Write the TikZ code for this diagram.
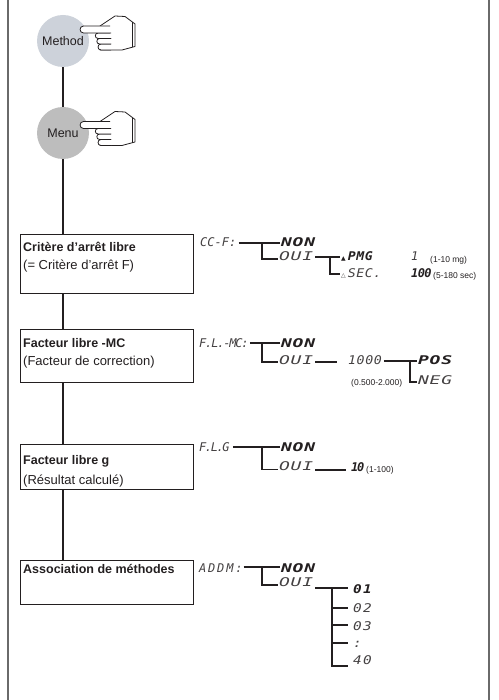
\documentclass[tikz,border=0pt]{standalone}
\usepackage{fontspec}
\setmainfont{Liberation Sans}
\newfontfamily\lcdN{DejaVu Sans Mono}
\newfontfamily\lcdW[FakeStretch=1.5,LetterSpace=6]{DejaVu Sans Mono}
\newfontfamily\lcdD[FakeStretch=1.2,LetterSpace=10]{DejaVu Sans Mono}
\newfontfamily\lcdM[FakeStretch=1.1,LetterSpace=5]{DejaVu Sans Mono}
\newfontfamily\symf{DejaVu Sans}
\definecolor{ink}{HTML}{231F20}
\definecolor{methodc}{HTML}{CDD2DA}
\definecolor{menuc}{HTML}{BDBDBD}
\definecolor{framec}{HTML}{6A6A6A}
\newcommand\tri[1]{{\symf\upshape\mdseries\fontsize{6}{6}\selectfont #1}\,}
\tikzset{
  frame/.style={draw=framec, line width=1.4pt},
  trunk/.style={draw=ink, line width=2pt},
  boxn/.style={draw=ink, line width=0.9pt, rectangle, inner sep=0pt, anchor=north west, minimum width=173pt},
  circ/.style={circle, inner sep=0pt, minimum size=52pt, text=ink, font=\fontsize{12.5}{14}\selectfont},
  btitle/.style={font=\fontsize{12.5}{14}\selectfont\bfseries, text=ink, anchor=base west, inner sep=0pt},
  bsub/.style={font=\fontsize{13}{15}\selectfont, text=ink, anchor=base west, inner sep=0pt},
  lcdt/.style={font={#1\fontsize{12}{14}\selectfont\itshape}, text=ink!85, anchor=base west, inner sep=0pt},
  lcdb/.style={font={#1\fontsize{12}{14}\selectfont\itshape\bfseries}, text=ink, anchor=base west, inner sep=0pt},
  small/.style={font=\fontsize{8.5}{10}\selectfont, text=ink, anchor=base west, inner sep=0pt},
  tree/.style={draw=ink, line width=1.1pt},
  handst/.style={draw=ink, fill=white, line width=0.8pt, line join=round},
  hand/.pic={
    \filldraw[handst] (20,-3.5) -- (35,-13.5) -- (45,-13) -- (55,-5.5) -- (55,17) -- (42,20.5) -- (20,20.5) -- cycle;
    \draw[ink, line width=0.8pt] (52.5,-7) -- (52.5,17.6);
    \filldraw[handst] (31,20.5) -- (21,20.5) .. controls (17,20.5) and (17,14.5) .. (21,14.5) -- (31,14.5);
    \filldraw[handst] (31,14.5) -- (19.5,14.5) .. controls (16,14.5) and (16,9) .. (19.5,9) -- (31,9);
    \filldraw[handst] (31,9) -- (18,9) .. controls (14.5,9) and (14.5,3.5) .. (18,3.5) -- (31,3.5);
    \filldraw[handst] (30,3.5) -- (3.5,3.5) .. controls (-1,3.5) and (-1,-3.5) .. (3.5,-3.5) -- (30,-3.5);
  }
}
\begin{document}
\begin{tikzpicture}[x=1pt,y=-1pt]
\useasboundingbox (0,0) rectangle (498,700);
\draw[frame] (8,0) -- (8,700);
\draw[frame] (489,0) -- (489,700);

% circles
\node[circ, fill=methodc] (method) at (63,41) {Method};
\node[circ, fill=menuc] (menu) at (63,133) {Menu};

% boxes
\node[boxn, minimum height=59pt] (b1) at (20,234) {};
\node[boxn, minimum height=53pt] (b2) at (20,329) {};
\node[boxn, minimum height=45pt] (b3) at (20,444) {};
\node[boxn, minimum height=44pt] (b4) at (20,560) {};

% trunk
\draw[trunk] (method) -- (menu);
\draw[trunk] (menu) -- (menu |- b1.north);
\draw[trunk] (b1.south -| menu) -- (b2.north -| menu);
\draw[trunk] (b2.south -| menu) -- (b3.north -| menu);
\draw[trunk] (b3.south -| menu) -- (b4.north -| menu);

% hands
\pic at (80,29.5) {hand};
\pic at (80,125) {hand};

% box texts
\node[btitle] (t1a) at (23,251.5) {Critère d'arrêt libre};
\node[bsub] (t1b) at (23,269.5) {(= Critère d'arrêt F)};
\node[btitle] (t2a) at (23,347.5) {Facteur libre -MC};
\node[bsub] (t2b) at (23,365) {(Facteur de correction)};
\node[btitle] (t3a) at (23,464.5) {Facteur libre g};
\node[bsub] (t3b) at (23,484.5) {(Résultat calculé)};
\node[btitle] (t4a) at (23,573.5) {Association de méthodes};

% ---- section 1
\node[lcdt={\lcdN}] (l1) at (200,247) {CC-F:};
\node[lcdb={\lcdW}] (n1) at (281,247) {NON};
\node[lcdt={\lcdW}] (o1) at (279,260) {OUI};
\draw[tree] ([xshift=2pt,yshift=4pt]l1.base east) -- ([xshift=-1pt,yshift=4pt]n1.base west);
\coordinate (j1) at (262,243);
\draw[tree] (j1) |- ([xshift=-1pt,yshift=1pt]o1.base west);
\node[lcdb={\lcdM}] (p1) at (341,260) {\tri{▲}PMG};
\node[lcdt={\lcdM}] (s1) at (341,277) {\tri{△}SEC.};
\draw[tree] ([xshift=2pt,yshift=3pt]o1.base east) -- ([xshift=-1pt,yshift=3pt]p1.base west);
\coordinate (j2) at (330,257);
\draw[tree] (j2) |- ([xshift=-1pt,yshift=3pt]s1.base west);
\node[lcdt={\lcdN}] (v1) at (411,260) {1};
\node[small] (r1) at (430,262) {(1-10 mg)};
\node[lcdb={\lcdN\addfontfeature{LetterSpace=-5}}] (v2) at (411,277) {100};
\node[small] (r2) at (433,278) {(5-180 sec)};

% ---- section 2
\node[lcdt={\lcdN\addfontfeature{LetterSpace=-10}}] (l2) at (199,347) {F.L.-MC:};
\node[lcdb={\lcdW}] (n2) at (281,347) {NON};
\node[lcdt={\lcdW}] (o2) at (279,364) {OUI};
\draw[tree] ([xshift=1pt,yshift=4pt]l2.base east) -- ([xshift=-1pt,yshift=4pt]n2.base west);
\coordinate (j3) at (262,343);
\draw[tree] (j3) |- ([xshift=-1pt,yshift=2pt]o2.base west);
\coordinate (e2) at (337,362);
\draw[tree] ([xshift=2pt,yshift=2pt]o2.base east) -- (e2);
\node[lcdt={\lcdM}] (v3) at (348,364) {1000};
\node[lcdb={\lcdW}] (p2) at (418,364) {POS};
\node[lcdt={\lcdW}] (g2) at (418,384) {NEG};
\draw[tree] ([xshift=2pt,yshift=3pt]v3.base east) -- ([xshift=-1pt,yshift=3pt]p2.base west);
\coordinate (j4) at (410,361);
\draw[tree] (j4) |- ([xshift=-1pt,yshift=2pt]g2.base west);
\node[small] (r3) at (351,385) {(0.500-2.000)};

% ---- section 3
\node[lcdt={\lcdN\addfontfeature{LetterSpace=-12}}] (l3) at (199,451) {F.L.G};
\node[lcdb={\lcdW}] (n3) at (281,451) {NON};
\node[lcdt={\lcdW}] (o3) at (279,470) {OUI};
\draw[tree] ([xshift=3pt,yshift=4pt]l3.base east) -- ([xshift=-1pt,yshift=4pt]n3.base west);
\coordinate (j5) at (262,447);
\draw[tree] (j5) |- ([xshift=-1pt,yshift=0.5pt]o3.base west);
\coordinate (e3) at (346,470);
\draw[tree] ([xshift=2pt]o3.base east) -- (e3);
\node[lcdb={\lcdN\addfontfeature{LetterSpace=-10}}] (v4) at (351,471) {10};
\node[small] (r4) at (366,472) {(1-100)};

% ---- section 4
\node[lcdt={\lcdN\addfontfeature{LetterSpace=15}}] (l4) at (199,572) {ADDM:};
\node[lcdb={\lcdW}] (n4) at (281,572) {NON};
\node[lcdt={\lcdW}] (o4) at (279,586) {OUI};
\draw[tree] ([xshift=1pt,yshift=5pt]l4.base east) -- ([xshift=-1pt,yshift=5pt]n4.base west);
\coordinate (j6) at (262,567);
\draw[tree] (j6) |- ([xshift=-1pt,yshift=1pt]o4.base west);
\node[lcdb={\lcdD}] (t01) at (353,593) {01};
\node[lcdt={\lcdD}] (t02) at (353,612) {02};
\node[lcdt={\lcdD}] (t03) at (353,630) {03};
\node[lcdt={\lcdD}] (tdd) at (353,647) {:};
\node[lcdt={\lcdD}] (t40) at (353,664) {40};
\coordinate (c01) at ([xshift=-5pt,yshift=5pt]t01.base west);
\coordinate (c02) at ([xshift=-5pt,yshift=4pt]t02.base west);
\coordinate (c03) at ([xshift=-5pt,yshift=5pt]t03.base west);
\coordinate (cdd) at ([xshift=-5pt,yshift=4pt]tdd.base west);
\coordinate (c40) at ([xshift=-5pt,yshift=-2pt]t40.base west);
\coordinate (j7) at (332,588);
\draw[tree] ([xshift=2pt,yshift=-2pt]o4.base east) -- (c01);
\draw[tree] (j7) |- (c40);
\draw[tree] (c02 -| j7) -- (c02);
\draw[tree] (c03 -| j7) -- (c03);
\draw[tree] (cdd -| j7) -- (cdd);
\end{tikzpicture}
\end{document}
